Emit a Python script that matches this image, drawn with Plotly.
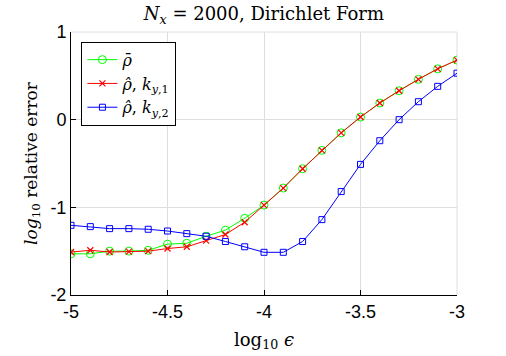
import plotly.graph_objects as go

x_vals = [-5.0, -4.9, -4.8, -4.7, -4.6, -4.5, -4.4, -4.3, -4.2, -4.1, -4.0,
          -3.9, -3.8, -3.7, -3.6, -3.5, -3.4, -3.3, -3.2, -3.1, -3.0]
rho_bar = [-1.53, -1.53, -1.50, -1.50, -1.49, -1.42, -1.41, -1.33, -1.26, -1.125, -0.975,
           -0.78, -0.56, -0.35, -0.15, 0.03, 0.19, 0.33, 0.46, 0.58, 0.68]
rho_hat_k1 = [-1.51, -1.49, -1.51, -1.505, -1.50, -1.47, -1.45, -1.38, -1.31, -1.17, -0.975,
              -0.78, -0.56, -0.35, -0.15, 0.03, 0.19, 0.33, 0.46, 0.58, 0.68]
rho_hat_k2 = [-1.205, -1.22, -1.243, -1.243, -1.25, -1.27, -1.30, -1.33, -1.39, -1.45, -1.513,
              -1.513, -1.39, -1.14, -0.82, -0.51, -0.24, 0.0, 0.205, 0.38, 0.53]

x_ticks = [-5, -4.5, -4, -3.5, -3]
x_ticklabels = ["-5", "-4.5", "-4", "-3.5", "-3"]
y_ticks = [-2, -1, 0, 1]
y_ticklabels = ["-2", "-1", "0", "1"]

names = ["<i>ρ̄</i>",
         "<i>ρ̂</i>, <i>k</i><sub><i>y</i>,1</sub>",
         "<i>ρ̂</i>, <i>k</i><sub><i>y</i>,2</sub>"]

serif = "DejaVu Serif"
sans = "Liberation Sans"

fig = go.Figure()
fig.add_trace(go.Scatter(x=x_vals, y=rho_bar, mode="lines+markers", name=names[0],
                         line=dict(color="#00ff00", width=1),
                         marker=dict(symbol="circle-open", size=8, color="#00ff00", line=dict(width=1))))
fig.add_trace(go.Scatter(x=x_vals, y=rho_hat_k1, mode="lines+markers", name=names[1],
                         line=dict(color="#ff0000", width=1),
                         marker=dict(symbol="x-thin-open", size=6, color="#ff0000", line=dict(width=1.2, color="#ff0000"))))
fig.add_trace(go.Scatter(x=x_vals, y=rho_hat_k2, mode="lines+markers", name=names[2],
                         line=dict(color="#0000ff", width=1),
                         marker=dict(symbol="square-open", size=6, color="#0000ff", line=dict(width=1))))

fig.update_layout(
    width=506, height=356,
    margin=dict(l=71, r=49, t=32, b=61, autoexpand=False),
    paper_bgcolor="white", plot_bgcolor="white",
    title=dict(text="<i>N<sub>x</sub></i> = 2000, Dirichlet Form",
               x=0.5216, xanchor="center", y=0.962, yanchor="middle", automargin=False,
               font=dict(family=serif, size=18, color="black")),
    xaxis=dict(range=[-5, -3], tickvals=x_ticks, ticktext=x_ticklabels, automargin=False,
               showgrid=True, gridcolor="#dedede", gridwidth=1, zeroline=False,
               showline=True, linecolor="black", linewidth=1, mirror=False,
               ticks="inside", ticklen=5, tickcolor="black",
               tickfont=dict(family=sans, size=18, color="black"),
               title=dict(text="log<sub>10</sub> <i>ϵ</i>", standoff=12,
                          font=dict(family=serif, size=18, color="black"))),
    yaxis=dict(range=[-2, 1], tickvals=y_ticks, ticktext=y_ticklabels, automargin=False,
               showgrid=True, gridcolor="#dedede", gridwidth=1, zeroline=False,
               showline=True, linecolor="black", linewidth=1, mirror=False,
               ticks="inside", ticklen=5, tickcolor="black",
               tickfont=dict(family=sans, size=18, color="black"),
               title=dict(text="<i>log</i><sub>10</sub> relative error", standoff=8,
                          font=dict(family=serif, size=17, color="black"))),
    legend=dict(x=0.027, y=0.963, xanchor="left", yanchor="top",
                bgcolor="white", bordercolor="black", borderwidth=1,
                font=dict(family=serif, size=16, color="black"),
                tracegroupgap=0, itemwidth=30),
    showlegend=True,
)
fig.add_shape(type="line", xref="paper", yref="paper", x0=0, x1=1, y0=1, y1=1,
              line=dict(color="#dedede", width=1), layer="below")
fig.add_shape(type="line", xref="paper", yref="paper", x0=1, x1=1, y0=0, y1=1,
              line=dict(color="#dedede", width=1), layer="below")

fig.write_html("out.html", config={"displayModeBar": False},
               post_script="document.body.style.margin='0';")
